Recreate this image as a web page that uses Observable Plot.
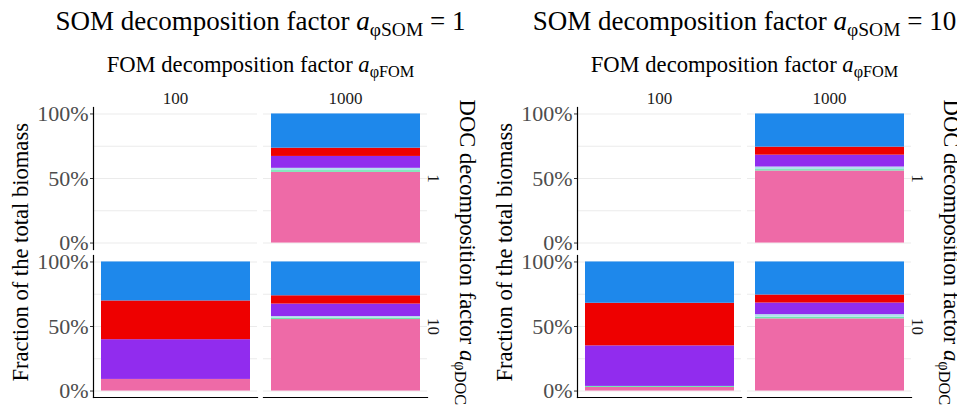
<!DOCTYPE html>
<html><head><meta charset="utf-8">
<script src="https://cdn.jsdelivr.net/npm/d3@7"></script>
<script src="https://cdn.jsdelivr.net/npm/@observablehq/plot@0.6"></script>
<style>
body{margin:0;background:#fff;}
#root{position:relative;width:957px;height:405px;overflow:hidden;font-family:"Liberation Serif","Times New Roman",serif;color:#000;}
.panel{position:absolute;top:0;width:484px;height:405px;}
.t{position:absolute;left:0;width:521px;text-align:center;white-space:nowrap;line-height:1;}
.title{font-size:27px;top:8px;}
.sub{font-size:22.6px;top:54px;}
.rot{position:absolute;width:340px;text-align:center;white-space:nowrap;line-height:1;font-size:22.6px;}
.plot{position:absolute;left:0;top:80px;}
i{font-style:italic;}
.s{font-size:72%;position:relative;top:0.32em;font-style:normal;}
</style></head>
<body><div id="root"></div>
<script>
// ---- data ----
const somLevels = ["1", "10"];
const fomLevels = ["100", "1000"];
const docLevels = ["1", "10"];
const groups = ["Group 1", "Group 2", "Group 3", "Group 4", "Group 5", "Group 6"];
const groupColors = ["#EE6AA7", "#6EE6B0", "#B2DFEE", "#912CEE", "#EE0000", "#1E88EB"];
// percent of total biomass, in order of groups (bottom to top)
const som1_fom1000_doc1  = [54.8, 1.3, 1.8, 9.2, 6.4, 26.5];
const som1_fom100_doc10  = [9.0, 0.0, 0.0, 30.8, 30.0, 30.2];
const som1_fom1000_doc10 = [55.4, 1.1, 1.2, 9.7, 6.4, 26.2];
const som10_fom1000_doc1  = [55.8, 1.1, 2.0, 9.2, 6.2, 25.7];
const som10_fom100_doc10  = [2.8, 0.8, 0.0, 31.4, 33.0, 32.0];
const som10_fom1000_doc10 = [55.9, 1.3, 2.0, 9.0, 6.2, 25.6];
const yTicks = [0, 50, 100];
const gridTicks = [0, 25, 50, 75, 100];

const series = [
  {SOM: "1", FOM: "1000", DOC: "1", values: som1_fom1000_doc1},
  {SOM: "1", FOM: "100", DOC: "10", values: som1_fom100_doc10},
  {SOM: "1", FOM: "1000", DOC: "10", values: som1_fom1000_doc10},
  {SOM: "10", FOM: "1000", DOC: "1", values: som10_fom1000_doc1},
  {SOM: "10", FOM: "100", DOC: "10", values: som10_fom100_doc10},
  {SOM: "10", FOM: "1000", DOC: "10", values: som10_fom1000_doc10}
];
const rows = series.flatMap(s => s.values.map((v, i) => ({SOM: s.SOM, FOM: s.FOM, DOC: s.DOC, group: groups[i], value: v})));

const root = document.getElementById("root");
const sub = (base, s) => `<i>${base}</i><span class="s">${s}</span>`;

somLevels.forEach((som, k) => {
  const panel = document.createElement("div");
  panel.className = "panel";
  panel.style.left = (k * 484) + "px";
  panel.innerHTML = `
    <div class="t title">SOM decomposition factor ${sub("a", "φSOM")} = ${som}</div>
    <div class="t sub">FOM decomposition factor ${sub("a", "φFOM")}</div>
    <div class="rot" style="left:${21 - 170}px;top:${252 - 11}px;transform:rotate(-90deg);">Fraction of the total biomass</div>
    <div class="rot" style="left:${467 - 170}px;top:${252 - 11}px;transform:rotate(90deg);">DOC decomposition factor ${sub("a", "φDOC")}</div>`;
  const data = rows.filter(d => d.SOM === som);
  const chart = Plot.plot({
    width: 484, height: 325,
    marginTop: 26, marginBottom: 7, marginLeft: 93, marginRight: 56,
    style: {fontFamily: "Liberation Serif, Times New Roman, serif", background: "transparent", overflow: "visible"},
    fx: {domain: fomLevels, paddingInner: 0.035, paddingOuter: 0, label: null},
    fy: {domain: docLevels, paddingInner: 0.04, paddingOuter: 0, label: null},
    x: {domain: ["all"], padding: 0.046, axis: null},
    y: {domain: [-5, 105], label: null},
    color: {domain: groups, range: groupColors},
    marks: [
      Plot.gridY(gridTicks, {stroke: "#ebebeb", strokeOpacity: 1, strokeWidth: 1.1}),
      Plot.barY(data, Plot.stackY({x: () => "all", y: "value", fill: "group", order: groups, fx: "FOM", fy: "DOC"})),
      Plot.axisY(yTicks, {anchor: "left", tickSize: 3, tickPadding: 2, tickFormat: d => d + "%", fontSize: 22, fill: "#4d4d4d", stroke: "#333", label: null}),
      Plot.axisFx({anchor: "top", tickSize: 0, tickPadding: 4, fontSize: 17, fill: "#1a1a1a", label: null}),
      Plot.axisFy({anchor: "right", tickSize: 0, tickPadding: 13, tickRotate: 90, fontSize: 17, fill: "#1a1a1a", label: null}),
      Plot.frame({anchor: "left", fx: "100", stroke: "#000", strokeWidth: 1.2}),
      Plot.frame({anchor: "bottom", fy: "10", stroke: "#000", strokeWidth: 1.2})
    ]
  });
  const holder = document.createElement("div");
  holder.className = "plot";
  holder.appendChild(chart);
  panel.appendChild(holder);
  root.appendChild(panel);
});
</script></body></html>
